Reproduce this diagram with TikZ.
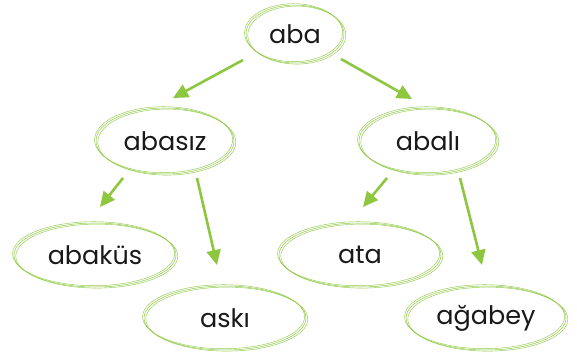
\documentclass[tikz,border=0pt]{standalone}
\usepackage{fontspec}
\setmainfont{Poppins}
\usetikzlibrary{shapes.geometric,arrows.meta,calc}
\definecolor{arrgreen}{RGB}{141,198,63}
\definecolor{ringgreen}{RGB}{145,202,72}
\tikzset{
  word/.style={ellipse, inner sep=0pt, font=\fontsize{25.5}{25.5}\selectfont, text=black!90,
    draw=ringgreen, line width=0.5pt,
    preaction={draw=ringgreen, line width=0.45pt, transform canvas={xshift=1.8pt, yshift=-1.1pt}},
    preaction={draw=ringgreen, line width=0.45pt, transform canvas={xshift=-1.4pt, yshift=1.3pt}}},
  arr/.style={draw=arrgreen, line width=2.6pt, -{Triangle[length=15pt,width=14pt]}}
}
\begin{document}
\begin{tikzpicture}[x=1pt,y=-1pt]
\useasboundingbox (0,0) rectangle (577,356);
\node[word, minimum width=98pt, minimum height=58pt] (aba) at (295,34) {aba};
\node[word, minimum width=138pt, minimum height=66pt] (abasiz) at (165,141) {abasız};
\node[word, minimum width=138pt, minimum height=66pt] (abali) at (428,141) {abalı};
\node[word, minimum width=162pt, minimum height=64pt] (abakus) at (95,255) {abaküs};
\node[word, minimum width=162pt, minimum height=64pt] (aski) at (225,318) {askı};
\node[word, minimum width=162pt, minimum height=64pt] (ata) at (360,255) {ata};
\node[word, minimum width=160pt, minimum height=64pt] (agabey) at (486,318) {ağabey};
\draw[arr] ([shift={(-52,26)}]aba.center) -- ([shift={(8,-43)}]abasiz.center);
\draw[arr] ([shift={(46,25)}]aba.center) -- ([shift={(-16,-42)}]abali.center);
\draw[arr] ([shift={(-42,37)}]abasiz.center) -- ([shift={(5,-48)}]abakus.center);
\draw[arr] ([shift={(32,37)}]abasiz.center) -- ([shift={(-8,-53)}]aski.center);
\draw[arr] ([shift={(-41,37)}]abali.center) -- ([shift={(3,-48)}]ata.center);
\draw[arr] ([shift={(32,37)}]abali.center) -- ([shift={(-4,-53)}]agabey.center);
\end{tikzpicture}
\end{document}
